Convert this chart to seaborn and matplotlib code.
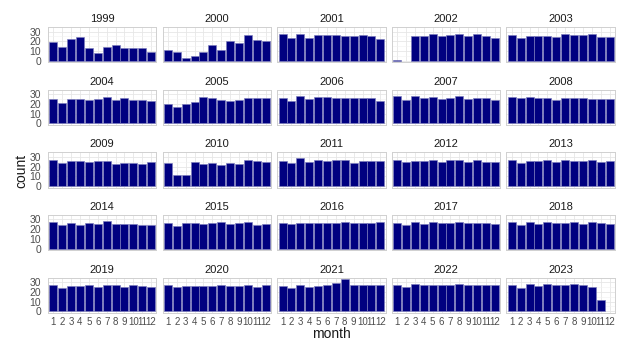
import numpy as np
import pandas as pd
import matplotlib
matplotlib.use("Agg")
import matplotlib.pyplot as plt
from matplotlib.ticker import MultipleLocator
import seaborn as sns

# Monthly counts per year (months 1..12)
months = list(range(1, 13))
years = list(range(1999, 2024))

c1999 = [19, 14, 22, 24, 13, 8, 14, 16, 13, 13, 13, 9]
c2000 = [11, 9, 3, 5, 9, 16, 11, 20, 18, 26, 21, 20]
c2001 = [27, 23, 27, 23, 26, 26, 26, 25, 25, 26, 25, 22]
c2002 = [1, 0, 25, 25, 27, 25, 26, 27, 25, 27, 25, 23]
c2003 = [26, 23, 25, 25, 25, 24, 27, 26, 26, 27, 24, 24]
c2004 = [25, 21, 25, 25, 24, 25, 27, 24, 26, 24, 24, 23]
c2005 = [20, 17, 20, 22, 27, 26, 24, 23, 24, 26, 26, 26]
c2006 = [26, 23, 28, 25, 27, 27, 26, 26, 26, 26, 26, 23]
c2007 = [28, 24, 28, 26, 27, 25, 26, 28, 25, 26, 26, 24]
c2008 = [27, 26, 27, 26, 26, 24, 26, 26, 26, 25, 25, 25]
c2009 = [27, 24, 26, 26, 25, 26, 26, 23, 24, 24, 23, 25]
c2010 = [24, 11, 11, 25, 23, 24, 22, 24, 23, 27, 26, 25]
c2011 = [26, 24, 29, 25, 27, 26, 27, 27, 24, 26, 26, 26]
c2012 = [27, 25, 26, 26, 27, 25, 27, 27, 25, 27, 25, 25]
c2013 = [27, 24, 26, 26, 27, 25, 27, 26, 26, 27, 25, 26]
c2014 = [27, 24, 26, 24, 26, 25, 28, 25, 25, 25, 24, 24]
c2015 = [26, 23, 26, 26, 25, 26, 27, 25, 26, 27, 24, 25]
c2016 = [26, 25, 26, 26, 26, 26, 26, 27, 26, 26, 26, 27]
c2017 = [26, 24, 27, 25, 27, 26, 26, 27, 26, 26, 26, 25]
c2018 = [27, 24, 27, 25, 27, 26, 26, 27, 25, 27, 26, 25]
c2019 = [27, 24, 26, 26, 27, 25, 27, 27, 25, 27, 26, 25]
c2020 = [27, 25, 26, 26, 26, 26, 27, 26, 26, 27, 25, 27]
c2021 = [26, 24, 27, 25, 26, 27, 29, 33, 27, 27, 27, 27]
c2022 = [27, 25, 28, 27, 27, 27, 27, 28, 27, 27, 27, 27]
c2023 = [27, 24, 28, 26, 28, 27, 27, 28, 27, 25, 12, 0]

counts = [c1999, c2000, c2001, c2002, c2003, c2004, c2005, c2006, c2007,
          c2008, c2009, c2010, c2011, c2012, c2013, c2014, c2015, c2016,
          c2017, c2018, c2019, c2020, c2021, c2022, c2023]

rows = []
for yr, vals in zip(years, counts):
    for m, v in zip(months, vals):
        if v > 0:  # months with no records get no bar
            rows.append({"year": yr, "month": m, "count": v})
df = pd.DataFrame(rows)

sns.set_theme(style="white")
plt.rcParams["font.family"] = ["Liberation Sans", "DejaVu Sans"]

ncol = 5
g = sns.FacetGrid(df, col="year", col_wrap=ncol, col_order=years,
                  sharex=True, sharey=True, height=1.0, aspect=1.5)
g.map_dataframe(sns.barplot, x="month", y="count", order=months,
                color="#000080", saturation=1, width=0.9,
                edgecolor="#7d7dbd", linewidth=0.45, errorbar=None)

fig = g.figure
fig.set_size_inches(6.23, 3.42)
fig.set_dpi(100)
fig.subplots_adjust(left=0.077, right=0.987, top=0.921, bottom=0.085,
                    wspace=0.056, hspace=0.77)

peak = max(max(v) for v in counts)
nrow = int(np.ceil(len(years) / ncol))
for i, ax in enumerate(g.axes.flat):
    r, c = divmod(i, ncol)
    ax.set_title(str(years[i]), fontsize=8, color="#1a1a1a", pad=3.5)
    ax.set_xlim(-0.6, 11.6)
    ax.set_ylim(-peak * 0.05, peak * 1.05)
    ax.yaxis.set_major_locator(MultipleLocator(10))
    ax.yaxis.set_minor_locator(MultipleLocator(5))
    ax.set_xticks(range(12))
    ax.set_xticklabels([str(m) for m in months])
    ax.set_axisbelow(True)
    ax.grid(True, which="major", color="#e6e6e6", linewidth=0.6)
    ax.grid(True, which="minor", axis="y", color="#f2f2f2", linewidth=0.4)
    ax.tick_params(axis="y", which="both", length=0, labelsize=7.5,
                   labelcolor="#4d4d4d", pad=5,
                   labelleft=(c == 0), labelright=False)
    ax.tick_params(axis="x", which="both", length=0, labelsize=7,
                   labelcolor="#4d4d4d", pad=3,
                   labelbottom=(r == nrow - 1), labeltop=False)
    ax.tick_params(axis="y", which="minor", labelleft=False)
    for sp in ax.spines.values():
        sp.set_visible(True)
        sp.set_color("#d0d0d0")
        sp.set_linewidth(0.7)
    ax.set_xlabel("")
    ax.set_ylabel("")

fig.text(0.035, 0.5, "count", rotation=90, ha="center", va="center",
         fontsize=10, color="#1a1a1a")
fig.text(0.532, 0.002, "month", ha="center", va="bottom",
         fontsize=10, color="#1a1a1a")

fig.savefig("out.png", dpi=100, facecolor="white")
